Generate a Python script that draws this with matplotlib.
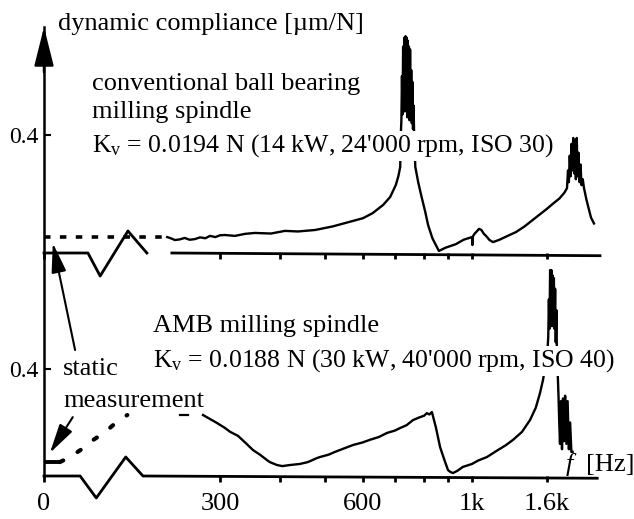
import numpy as np
import matplotlib
matplotlib.use("Agg")
import matplotlib.pyplot as plt

plt.rcParams['font.family'] = ['Liberation Serif', 'DejaVu Serif']
plt.rcParams['mathtext.fontset'] = 'custom'
plt.rcParams['mathtext.rm'] = 'Liberation Serif'
plt.rcParams['mathtext.it'] = 'Liberation Serif:italic'

# ---------------- data ----------------
tick_major = [0, 300, 600, 1000, 1600]
tick_major_labels = ["0", "300", "600", "1k", "1.6k"]
tick_minor = [400, 500, 700, 800, 900]

# conventional ball bearing spindle
conv_static_f = [0, 210]
conv_static_c = [0.054, 0.054]
conv_f = [210, 216, 223, 231, 240, 248, 257, 266, 275, 283, 292, 300, 308,
          325, 342, 358, 385, 411, 440, 478, 520, 563, 600, 630, 663, 685,
          703, 712, 718,
          720, 722, 724, 726, 728, 730, 732, 734, 736, 738, 740, 742, 744,
          746, 748, 750, 752, 754, 756, 758, 760, 762, 764, 766,
          770, 780, 790, 805, 817, 835, 862, 890, 933, 965, 1000, 1003,
          1006, 1020, 1040, 1056, 1075, 1095, 1112, 1140, 1168, 1220, 1270,
          1352, 1420, 1480, 1540, 1600, 1650, 1700, 1740, 1760,
          1768, 1775, 1782, 1789, 1796, 1803, 1810, 1817, 1824, 1831, 1838,
          1845, 1852, 1860, 1868, 1876, 1886, 1896, 1906, 1916, 1928, 1940,
          1952, 1964, 1976]
conv_c = [0.054, 0.050, 0.044, 0.046, 0.051, 0.045, 0.047, 0.053, 0.050,
          0.058, 0.054, 0.060, 0.061, 0.058, 0.065, 0.068, 0.066, 0.075,
          0.073, 0.078, 0.090, 0.105, 0.118, 0.135, 0.163, 0.190, 0.231,
          0.262, 0.292,
          0.40, 0.45, 0.60, 0.47, 0.70, 0.50, 0.73, 0.48, 0.735, 0.55, 0.73,
          0.46, 0.72, 0.50, 0.70, 0.45, 0.69, 0.48, 0.62, 0.44, 0.58, 0.42,
          0.50, 0.40,
          0.292, 0.240, 0.197, 0.140, 0.095, 0.050, 0.007, 0.018, 0.030,
          0.045, 0.054, 0.027, 0.055, 0.065, 0.074, 0.082, 0.078, 0.065,
          0.058, 0.044, 0.037, 0.045, 0.055, 0.071, 0.090, 0.110, 0.130,
          0.150, 0.168, 0.185, 0.205, 0.220,
          0.28, 0.24, 0.33, 0.26, 0.37, 0.28, 0.39, 0.27, 0.38, 0.25, 0.39,
          0.26, 0.34, 0.24, 0.30, 0.23, 0.25, 0.22, 0.20, 0.18, 0.16, 0.14,
          0.12, 0.11, 0.10]

# AMB milling spindle
amb_static_f = [0, 25]
amb_static_c = [0.052, 0.052]
amb_dots_f = [27, 41, 65, 84, 104, 124, 142]
amb_dots_c = [0.052, 0.067, 0.101, 0.135, 0.164, 0.202, 0.228]
amb_dash_f = [232, 246]
amb_dash_c = [0.228, 0.228]
amb_f = [271, 283, 295, 308, 317, 330, 342, 355, 367, 378, 383, 395, 405,
         422, 444, 462, 482, 489, 510, 526, 550, 574, 598, 621, 650, 675,
         700, 717, 740, 762, 786, 800, 812, 822, 833, 850, 867, 885, 900,
         910, 921, 940, 962, 1000, 1050, 1120, 1200, 1270, 1328, 1400, 1464,
         1510, 1544, 1568, 1590,
         1605, 1610, 1615, 1620, 1625, 1630, 1635, 1640, 1645, 1650, 1655,
         1660, 1665, 1670, 1675, 1680,
         1686, 1692, 1698, 1704, 1712, 1720, 1728, 1736, 1745, 1755, 1765,
         1775, 1785, 1795, 1805]
amb_c = [0.228, 0.213, 0.198, 0.180, 0.165, 0.150, 0.125, 0.097, 0.079,
         0.060, 0.052, 0.041, 0.037, 0.041, 0.045, 0.052, 0.067, 0.071,
         0.080, 0.090, 0.103, 0.116, 0.125, 0.135, 0.146, 0.161, 0.170,
         0.179, 0.190, 0.209, 0.220, 0.225, 0.235, 0.230, 0.239, 0.180,
         0.108, 0.060, 0.022, 0.015, 0.011, 0.020, 0.034, 0.045, 0.058,
         0.071, 0.095, 0.115, 0.135, 0.165, 0.209, 0.255, 0.310, 0.359,
         0.42,
         0.48, 0.52, 0.66, 0.55, 0.77, 0.60, 0.77, 0.56, 0.75, 0.62, 0.74,
         0.55, 0.70, 0.50, 0.62, 0.42,
         0.38, 0.30, 0.20, 0.12, 0.28, 0.10, 0.29, 0.13, 0.30, 0.12, 0.28,
         0.10, 0.20, 0.09, 0.09]

# ---------------- scale ----------------
FREQ_KNOTS = [-1000, 0, 300, 400, 500, 600, 700, 800, 900, 1000, 1600, 2000, 3000]
POS_KNOTS = [-587, 0, 176, 236, 281, 319, 351, 380, 404, 428, 503, 553, 678]

def fwd(f):
    return np.interp(f, FREQ_KNOTS, POS_KNOTS)

def inv(p):
    return np.interp(p, POS_KNOTS, FREQ_KNOTS)

W, H = 634, 519
fig = plt.figure(figsize=(W / 100, H / 100), dpi=100)

def fx(px):
    return px / W

def fy(py):
    return 1 - py / H

x0 = 44
ax_w = 556
top_base, top_tip = 253, 27
bot_base = 476
ax_top = fig.add_axes([fx(x0), fy(top_base), ax_w / W, (top_base - top_tip) / H])
ax_bot = fig.add_axes([fx(x0), fy(bot_base), ax_w / W, (bot_base - top_base) / H])

ax_top.set_ylim(0, (top_base - top_tip) / 118 * 0.4)
ax_bot.set_ylim(0, (bot_base - top_base) / 107 * 0.4)

for ax in (ax_top, ax_bot):
    ax.set_xscale('function', functions=(fwd, inv))
    ax.set_xlim(0, 2024)
    ax.patch.set_alpha(0)
    for s in ('top', 'right', 'bottom'):
        ax.spines[s].set_visible(False)
    ax.spines['left'].set_linewidth(1.8)
    ax.set_xticks(tick_major)
    ax.set_xticks(tick_minor, minor=True)
    ax.tick_params(axis='x', which='both', direction='out', length=4, width=2)
    ax.set_yticks([0.4])
    ax.set_yticklabels(["0.4"])
    ax.tick_params(axis='y', direction='in', length=5, width=1.5, pad=4,
                   labelsize=17)

ax_top.set_xticklabels([])
ax_bot.set_xticklabels(tick_major_labels)
ax_bot.tick_params(axis='x', which='major', labelsize=19, pad=8)

lw = 1.7
ax_top.plot(conv_f, conv_c, color='black', lw=lw, zorder=2)
ax_top.plot(conv_static_f, conv_static_c, color='black', lw=2.6,
            linestyle=(0, (1.8, 2.6)), zorder=2)
ax_bot.plot(amb_f, amb_c, color='black', lw=lw, zorder=2)
ax_bot.plot(amb_static_f, amb_static_c, color='black', lw=2.8, zorder=2)
ax_bot.plot(amb_dots_f, amb_dots_c, color='black', lw=3.0,
            linestyle=(0, (0.9, 4.0)), dash_capstyle='round', zorder=2)
ax_bot.plot(amb_dash_f, amb_dash_c, color='black', lw=1.6, zorder=2)

# broken baselines
ax_top.plot([0, 0.079, 0.101, 0.151, 0.185], [0, 0, -23 / 226, 22 / 226, 0],
            transform=ax_top.transAxes, color='black', lw=2, clip_on=False)
ax_top.plot([0.230, 1.0], [0, -0.012], transform=ax_top.transAxes,
            color='black', lw=2, clip_on=False)
ax_bot.plot([0, 0.065, 0.094, 0.147, 0.178, 0.995],
            [0, 0, -22 / 223, 19 / 223, 0, -0.01],
            transform=ax_bot.transAxes, color='black', lw=2, clip_on=False)

# y-axis arrow head
ax_top.annotate('', xy=(0, 1.0), xytext=(0, 0.80), xycoords='axes fraction',
                arrowprops=dict(arrowstyle='-|>,head_length=1.2,head_width=0.3',
                                mutation_scale=20, color='black', lw=1.8,
                                shrinkA=0, shrinkB=0))

# static measurement arrows
ax_bot.annotate('', xy=(15, 0.034), xycoords=ax_top.transData,
                xytext=(53, 0.471), textcoords=ax_bot.transData,
                arrowprops=dict(arrowstyle='-|>,head_length=1.0,head_width=0.25',
                                mutation_scale=18, color='black', lw=1.5,
                                shrinkA=0, shrinkB=0))
ax_bot.annotate('', xy=(10, 0.086), xytext=(49, 0.22),
                arrowprops=dict(arrowstyle='-|>,head_length=1.0,head_width=0.25',
                                mutation_scale=18, color='black', lw=1.5,
                                shrinkA=0, shrinkB=0))

fs = 19
fs_k = 18.5
white = dict(facecolor='white', edgecolor='none', pad=1.0)
fig.text(fx(58), fy(30), "dynamic compliance [µm/N]", fontsize=fs, va='baseline')
fig.text(fx(92), fy(90), "conventional ball bearing", fontsize=fs, va='baseline')
fig.text(fx(92), fy(118), "milling spindle", fontsize=fs, va='baseline')
fig.text(fx(92), fy(152), "K$_{\\mathrm{v}}$ = 0.0194 N (14 kW, 24'000 rpm, ISO 30)",
         fontsize=fs_k, va='baseline', bbox=white, zorder=5)
fig.text(fx(153), fy(332), "AMB milling spindle", fontsize=fs, va='baseline')
fig.text(fx(153), fy(367), "K$_{\\mathrm{v}}$ = 0.0188 N (30 kW, 40'000 rpm, ISO 40)",
         fontsize=fs_k, va='baseline', bbox=white, zorder=5)
fig.text(fx(63), fy(375), "static", fontsize=fs, va='baseline')
fig.text(fx(63), fy(407), "measurement", fontsize=fs, va='baseline')
fig.text(fx(566), fy(471), "f", fontsize=fs, va='baseline', style='italic')
fig.text(fx(586), fy(471), "[Hz]", fontsize=fs, va='baseline')

fig.savefig("out.png", dpi=100)
